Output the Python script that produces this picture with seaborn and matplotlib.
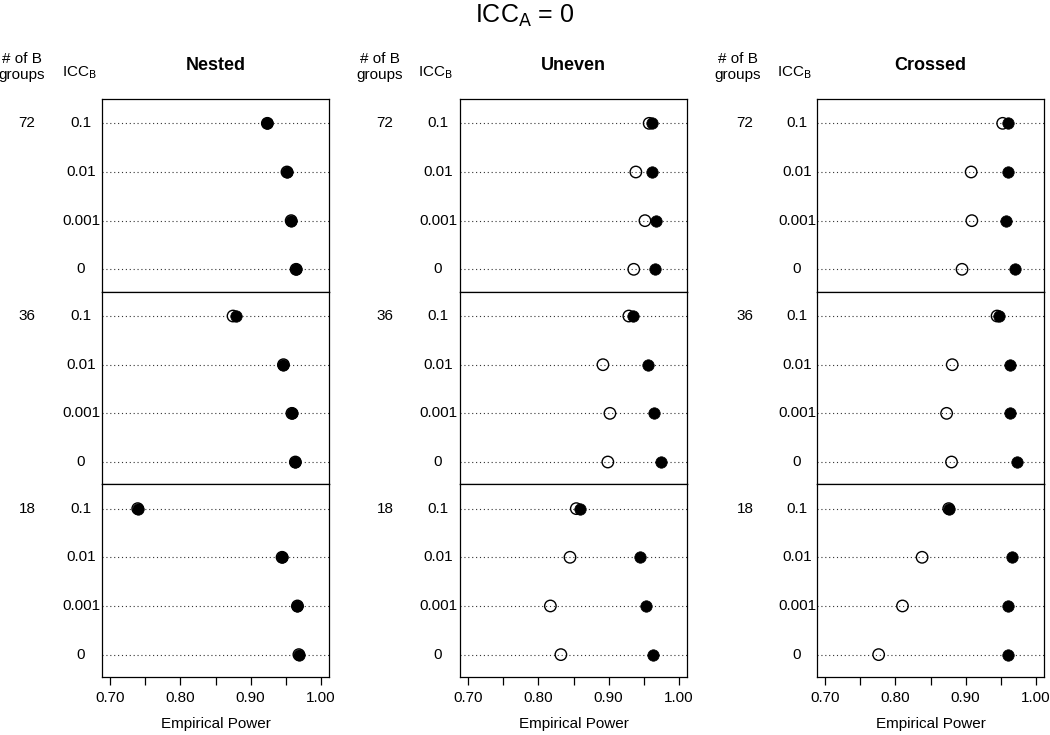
import numpy as np
import pandas as pd
import matplotlib
matplotlib.use("Agg")
from matplotlib import pyplot as plt
from matplotlib import transforms
import seaborn as sns

designs = ["Nested", "Uneven", "Crossed"]
groups = ["72", "36", "18"]
icc_b = ["0.1", "0.01", "0.001", "0"]

# power values, rows = groups (72, 36, 18) x icc_b (0.1, 0.01, 0.001, 0)
nested_filled = [0.924, 0.952, 0.958, 0.965, 0.879, 0.947, 0.959, 0.964, 0.739, 0.945, 0.967, 0.969]
nested_open = [0.924, 0.952, 0.958, 0.965, 0.875, 0.947, 0.959, 0.964, 0.739, 0.945, 0.967, 0.969]
uneven_filled = [0.962, 0.962, 0.968, 0.966, 0.935, 0.956, 0.965, 0.975, 0.859, 0.945, 0.954, 0.964]
uneven_open = [0.958, 0.939, 0.952, 0.936, 0.929, 0.892, 0.902, 0.899, 0.854, 0.845, 0.817, 0.832]
crossed_filled = [0.960, 0.961, 0.958, 0.971, 0.948, 0.963, 0.964, 0.973, 0.877, 0.966, 0.960, 0.960]
crossed_open = [0.953, 0.908, 0.909, 0.895, 0.945, 0.881, 0.873, 0.880, 0.876, 0.838, 0.810, 0.776]

x_ticks = [0.70, 0.80, 0.90, 1.00]
x_minor = [0.75, 0.85, 0.95]

series = {
    "Nested": (nested_filled, nested_open),
    "Uneven": (uneven_filled, uneven_open),
    "Crossed": (crossed_filled, crossed_open),
}

rows = []
for d in designs:
    filled, hollow = series[d]
    for i, g in enumerate(groups):
        for j, c in enumerate(icc_b):
            k = i * len(icc_b) + j
            rows.append({"design": d, "groups": g, "icc": c, "pos": j, "kind": "open", "power": hollow[k]})
            rows.append({"design": d, "groups": g, "icc": c, "pos": j, "kind": "filled", "power": filled[k]})
df = pd.DataFrame(rows)

sns.set_style("white")
plt.rcParams["font.family"] = ["Liberation Sans", "DejaVu Sans"]
plt.rcParams["mathtext.default"] = "regular"
plt.rcParams["text.color"] = "black"
plt.rcParams["axes.labelcolor"] = "black"
plt.rcParams["xtick.color"] = "black"

W, H = 1050, 735
fig = plt.figure(figsize=(W / 100, H / 100), dpi=100)

def fx(px):
    return px / W

def fy(py):
    return 1 - py / H

ax_left = [102, 460, 817]
ax_w = 227
row_top = [99, 291.7, 484.3]
row_h = 192.7
hdr_x = [22, 380, 738]
grp_x = [27, 385, 745]
icc_hdr_x = [79, 435, 794]
icc_x = [81, 438, 797]
fs = 11

fig.text(0.5, fy(16), "ICC$_\\mathrm{A}$ = 0", ha="center", va="center", fontsize=18)

for p, d in enumerate(designs):
    left = ax_left[p]
    fig.text(fx(hdr_x[p]), fy(67), "# of B\ngroups", ha="center", va="center", fontsize=fs, linespacing=1.1)
    fig.text(fx(icc_hdr_x[p]), fy(73), "ICC$_\\mathrm{B}$", ha="center", va="center", fontsize=fs)
    fig.text(fx(left + ax_w / 2), fy(66), d, ha="center", va="center", fontsize=13, fontweight="bold")
    for r, g in enumerate(groups):
        ax = fig.add_axes([fx(left), fy(row_top[r] + row_h), ax_w / W, row_h / H])
        sub = df[(df["design"] == d) & (df["groups"] == g)]
        for j in range(len(icc_b)):
            ax.axhline(j, color="0.2", lw=0.8, ls=(0, (1, 2.5)), zorder=1)
        sns.scatterplot(data=sub[sub["kind"] == "open"], x="power", y="pos", ax=ax,
                        s=68, marker="o", facecolors="none", edgecolor="black", linewidth=1.0, zorder=2)
        sns.scatterplot(data=sub[sub["kind"] == "filled"], x="power", y="pos", ax=ax,
                        s=68, marker="o", color="black", edgecolor="black", linewidth=0.5, zorder=3)
        ax.set_xlim(0.688, 1.012)
        ax.set_ylim(3.46, -0.5)
        ax.set_yticks([])
        ax.set_ylabel("")
        ax.set_xlabel("")
        for sp in ax.spines.values():
            sp.set_visible(True)
            sp.set_color("black")
            sp.set_linewidth(0.9)
        trans = transforms.blended_transform_factory(fig.transFigure, ax.transData)
        ax.text(fx(grp_x[p]), 0, g, transform=trans, ha="center", va="center", fontsize=fs)
        for j, c in enumerate(icc_b):
            ax.text(fx(icc_x[p]), j, c, transform=trans, ha="center", va="center", fontsize=fs)
        if r == len(groups) - 1:
            ax.set_xticks(x_ticks)
            ax.set_xticklabels(["%.2f" % v for v in x_ticks])
            ax.set_xticks(x_minor, minor=True)
            ax.tick_params(axis="x", which="both", bottom=True, length=6, width=0.9,
                           direction="out", labelsize=fs, pad=4)
            ax.set_xlabel("Empirical Power", fontsize=fs, labelpad=9)
        else:
            ax.set_xticks([])

plt.savefig("out.png", dpi=100)
